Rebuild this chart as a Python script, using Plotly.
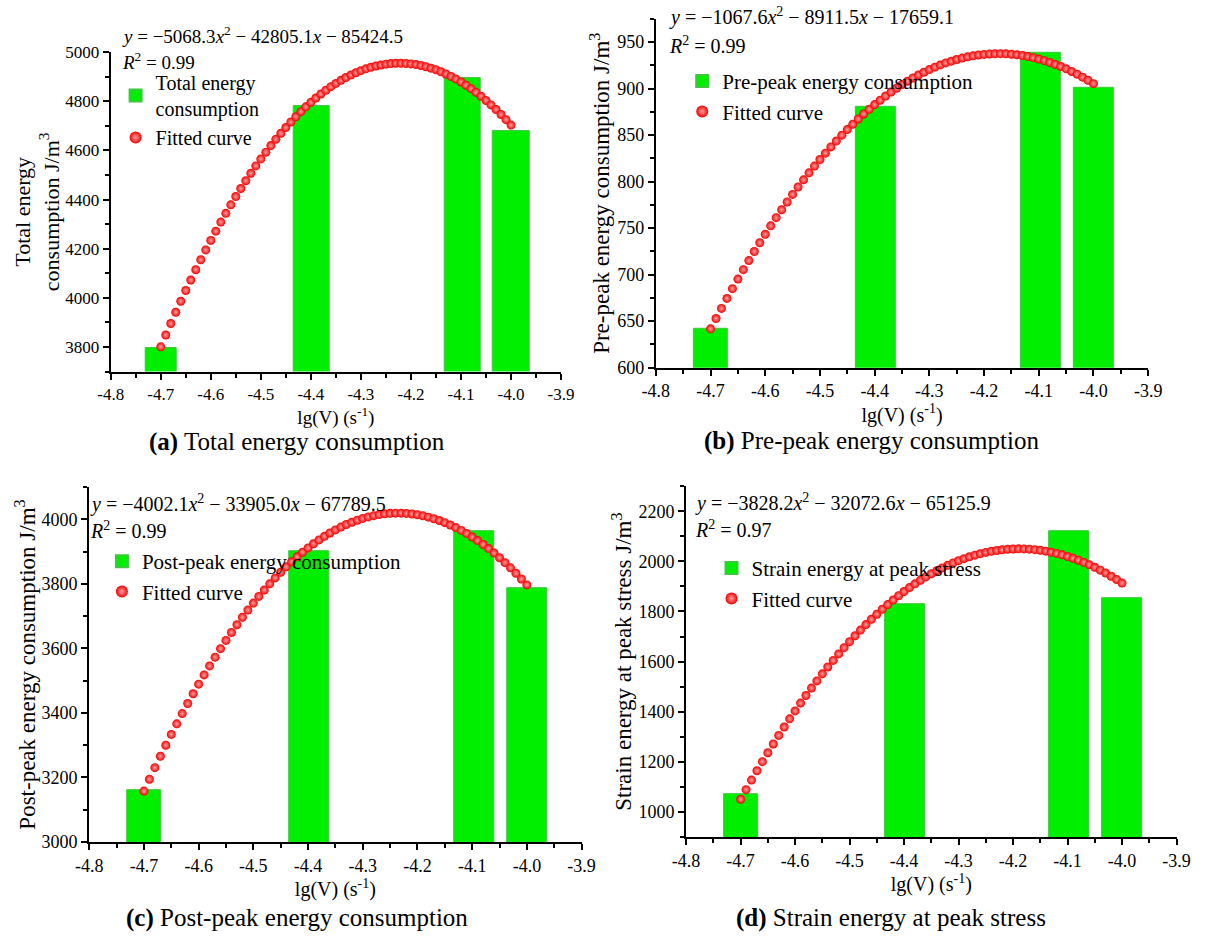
import plotly.graph_objects as go

# ---------------- data ----------------
bar_x = [-4.699, -4.398, -4.097, -4.0]
total_energy = [3795, 4780, 4893, 4678]
pre_peak = [642, 880, 938, 901]
post_peak = [3160, 3902, 3964, 3787]
strain_peak = [1069, 1830, 2122, 1852]

fit_x = [-4.70, -4.69, -4.68, -4.67, -4.66, -4.65, -4.64, -4.63, -4.62, -4.61,
         -4.60, -4.59, -4.58, -4.57, -4.56, -4.55, -4.54, -4.53, -4.52, -4.51,
         -4.50, -4.49, -4.48, -4.47, -4.46, -4.45, -4.44, -4.43, -4.42, -4.41,
         -4.40, -4.39, -4.38, -4.37, -4.36, -4.35, -4.34, -4.33, -4.32, -4.31,
         -4.30, -4.29, -4.28, -4.27, -4.26, -4.25, -4.24, -4.23, -4.22, -4.21,
         -4.20, -4.19, -4.18, -4.17, -4.16, -4.15, -4.14, -4.13, -4.12, -4.11,
         -4.10, -4.09, -4.08, -4.07, -4.06, -4.05, -4.04, -4.03, -4.02, -4.01,
         -4.00]

fit_total = [3800.7, 3848.6, 3895.4, 3941.3, 3986.1, 4029.9, 4072.7, 4114.5, 4155.2, 4195.0,
             4233.7, 4271.5, 4308.2, 4343.9, 4378.5, 4412.2, 4444.9, 4476.5, 4507.1, 4536.8,
             4565.4, 4593.0, 4619.5, 4645.1, 4669.6, 4693.2, 4715.7, 4737.2, 4757.7, 4777.2,
             4795.6, 4813.1, 4829.5, 4845.0, 4859.4, 4872.8, 4885.2, 4896.5, 4906.9, 4916.2,
             4924.6, 4931.9, 4938.2, 4943.5, 4947.7, 4951.0, 4953.2, 4954.5, 4954.7, 4953.9,
             4952.1, 4949.3, 4945.4, 4940.6, 4934.7, 4927.9, 4920.0, 4911.1, 4901.1, 4890.2,
             4878.3, 4865.3, 4851.3, 4836.4, 4820.4, 4803.3, 4785.3, 4766.3, 4746.2, 4725.2,
             4703.1]

fit_pre = [641.7, 652.8, 663.7, 674.4, 684.9, 695.2, 705.3, 715.1, 724.8, 734.2,
           743.4, 752.4, 761.2, 769.7, 778.1, 786.2, 794.2, 801.9, 809.4, 816.7,
           823.8, 830.6, 837.3, 843.7, 849.9, 855.9, 861.7, 867.3, 872.7, 877.8,
           882.8, 887.5, 892.0, 896.3, 900.4, 904.3, 907.9, 911.4, 914.6, 917.6,
           920.4, 923.0, 925.4, 927.6, 929.5, 931.3, 932.8, 934.1, 935.2, 936.1,
           936.7, 937.2, 937.4, 937.5, 937.3, 936.9, 936.3, 935.5, 934.4, 933.2,
           931.7, 930.0, 928.1, 926.0, 923.7, 921.2, 918.4, 915.5, 912.3, 908.9,
           905.3]

fit_post = [3157.6, 3194.4, 3230.3, 3265.5, 3299.8, 3333.3, 3366.1, 3398.0, 3429.2, 3459.5,
            3489.1, 3517.8, 3545.7, 3572.9, 3599.2, 3624.8, 3649.5, 3673.5, 3696.6, 3718.9,
            3740.5, 3761.2, 3781.2, 3800.3, 3818.6, 3836.2, 3852.9, 3868.8, 3884.0, 3898.3,
            3911.8, 3924.6, 3936.5, 3947.6, 3958.0, 3967.5, 3976.2, 3984.2, 3991.3, 3997.6,
            4003.2, 4007.9, 4011.8, 4015.0, 4017.3, 4018.8, 4019.5, 4019.5, 4018.6, 4016.9,
            4014.5, 4011.2, 4007.1, 4002.2, 3996.6, 3990.1, 3982.8, 3974.7, 3965.9, 3956.2,
            3945.7, 3934.4, 3922.3, 3909.5, 3895.8, 3881.3, 3866.0, 3850.0, 3833.1, 3815.4,
            3796.9]

fit_strain = [1050.4, 1089.1, 1127.1, 1164.3, 1200.8, 1236.4, 1271.3, 1305.5, 1338.9, 1371.5,
              1403.3, 1434.4, 1464.8, 1494.3, 1523.1, 1551.1, 1578.4, 1604.9, 1630.6, 1655.6,
              1679.7, 1703.2, 1725.8, 1747.7, 1768.9, 1789.2, 1808.8, 1827.7, 1845.7, 1863.0,
              1879.6, 1895.4, 1910.4, 1924.6, 1938.1, 1950.8, 1962.7, 1973.9, 1984.3, 1994.0,
              2002.9, 2011.0, 2018.3, 2024.9, 2030.7, 2035.8, 2040.1, 2043.6, 2046.4, 2048.3,
              2049.6, 2050.0, 2049.7, 2048.7, 2046.8, 2044.2, 2040.8, 2036.7, 2031.8, 2026.1,
              2019.7, 2012.5, 2004.6, 1995.8, 1986.3, 1976.1, 1965.1, 1953.3, 1940.7, 1927.4,
              1913.3]

x_tickvals = [-4.8, -4.7, -4.6, -4.5, -4.4, -4.3, -4.2, -4.1, -4.0, -3.9]
x_ticktext = ["-4.8", "-4.7", "-4.6", "-4.5", "-4.4", "-4.3", "-4.2", "-4.1", "-4.0", "-3.9"]
y_ticks_total = [3800, 4000, 4200, 4400, 4600, 4800, 5000]
y_ticks_pre = [600, 650, 700, 750, 800, 850, 900, 950]
y_ticks_post = [3000, 3200, 3400, 3600, 3800, 4000]
y_ticks_strain = [1000, 1200, 1400, 1600, 1800, 2000, 2200]

equations = [
    "<i>y</i> = \u22125068.3<i>x</i><sup>2</sup> \u2212 42805.1<i>x</i> \u2212 85424.5",
    "<i>y</i> = \u22121067.6<i>x</i><sup>2</sup> \u2212 8911.5<i>x</i> \u2212 17659.1",
    "<i>y</i> = \u22124002.1<i>x</i><sup>2</sup> \u2212 33905.0<i>x</i> \u2212 67789.5",
    "<i>y</i> = \u22123828.2<i>x</i><sup>2</sup> \u2212 32072.6<i>x</i> \u2212 65125.9",
]
r_squared = ["0.99", "0.99", "0.99", "0.97"]
bar_names = ["Total energy<br>consumption", "Pre-peak energy consumption",
             "Post-peak energy consumption", "Strain energy at peak stress"]
y_titles = ["Total energy<br>consumption J/m<sup>3</sup>",
            "Pre-peak energy consumption J/m<sup>3</sup>",
            "Post-peak energy consumption J/m<sup>3</sup>",
            "Strain energy at peak stress J/m<sup>3</sup>"]
captions = ["<b>(a)</b> Total energy consumption", "<b>(b)</b> Pre-peak energy consumption",
            "<b>(c)</b> Post-peak energy consumption", "<b>(d)</b> Strain energy at peak stress"]
x_title = "lg(V) (s<sup>-1</sup>)"
fit_name = "Fitted curve"

bar_values = [total_energy, pre_peak, post_peak, strain_peak]
fit_values = [fit_total, fit_pre, fit_post, fit_strain]
y_ticks = [y_ticks_total, y_ticks_pre, y_ticks_post, y_ticks_strain]

# ---------------- layout / style ----------------
W, H = 1213, 945
FONT = "Liberation Serif"
bar_widths = [0.063, 0.072, 0.073, 0.073]

# plot-area boxes in pixels: (left, right, top, bottom)
boxes = [(99, 560, 44, 370), (657, 1161, 10, 366), (77, 581, 488, 850), (688, 1190, 487, 845)]
y_ranges = [[3700, 5000], [600, 975], [3000, 4100], [900, 2300]]
y_minor = [100, 25, 100, 100]
scale = [0.96, 1.0, 1.0, 1.0]
eq_pos = [(108, 27, 53), (668, 8, 37), (76, 505, 532), (695, 504, 531)]
legend_pos = [(104, 55), (684, 53), (90, 543), (714, 550)]
caption_pos = [(290, 442), (878, 441), (290, 928), (898, 928)]
y_standoff = [0, 1, 0, 0]


def fx(p):
    return p / W


def fy(p):
    return 1 - p / H


fig = go.Figure()
annotations = []
layout_upd = {}

for i in range(4):
    sfx = "" if i == 0 else str(i + 1)
    xa, ya = "x" + sfx, "y" + sfx
    lg = "legend" + sfx
    left, right, top, bottom = boxes[i]
    s = scale[i]

    fig.add_trace(go.Bar(
        x=bar_x, y=bar_values[i], width=bar_widths, name=bar_names[i],
        xaxis=xa, yaxis=ya, legend=lg,
        marker=dict(color="#00EE00", line=dict(color="#3DC83D", width=1)),
    ))
    fig.add_trace(go.Scatter(
        x=fit_x, y=fit_values[i], mode="markers", name=fit_name,
        xaxis=xa, yaxis=ya, legend=lg, cliponaxis=False,
        marker=dict(size=9, color="#F20000",
                    gradient=dict(type="radial", color="#FFA0A0"),
                    line=dict(width=0)),
    ))

    layout_upd["xaxis" + sfx] = dict(
        domain=[fx(left), fx(right)], anchor=ya, range=[-4.8, -3.9],
        tickmode="array", tickvals=x_tickvals, ticktext=x_ticktext,
        ticks="outside", ticklen=6, tickwidth=2, tickcolor="black",
        showline=True, linewidth=2, linecolor="black", showgrid=False, zeroline=False,
        minor=dict(tick0=-4.8, dtick=0.05, ticks="outside", ticklen=4, tickwidth=1.5,
                   tickcolor="black", showgrid=False),
        tickfont=dict(family=FONT, size=round(17.6 * s), color="black"),
        title=dict(text=x_title, font=dict(family=FONT, size=round(20 * s), color="black"),
                   standoff=0),
    )
    layout_upd["yaxis" + sfx] = dict(
        domain=[fy(bottom), fy(top)], anchor=xa, range=y_ranges[i],
        tickmode="array", tickvals=y_ticks[i],
        ticks="outside", ticklen=6, tickwidth=2, tickcolor="black",
        showline=True, linewidth=2, linecolor="black", showgrid=False, zeroline=False,
        minor=dict(tick0=y_ranges[i][0], dtick=y_minor[i], ticks="outside", ticklen=4,
                   tickwidth=1.5, tickcolor="black", showgrid=False),
        tickfont=dict(family=FONT, size=round(17.6 * s), color="black"),
        title=dict(text=y_titles[i], font=dict(family=FONT, size=round(23 * s), color="black"),
                   standoff=y_standoff[i]),
    )
    lx, ly = legend_pos[i]
    layout_upd[lg] = dict(
        x=fx(lx), y=fy(ly), xanchor="left", yanchor="top", bgcolor="rgba(0,0,0,0)",
        font=dict(family=FONT, size=round(21 * s), color="black"), tracegroupgap=0,
        itemsizing="constant",
    )

    ex, ey1, ey2 = eq_pos[i]
    annotations.append(dict(x=fx(ex), y=fy(ey1), xref="paper", yref="paper", xanchor="left",
                            yanchor="middle", showarrow=False, text=equations[i],
                            font=dict(family=FONT, size=round(19.6 * s), color="black")))
    annotations.append(dict(x=fx(ex), y=fy(ey2), xref="paper", yref="paper", xanchor="left",
                            yanchor="middle", showarrow=False,
                            text="<i>R</i><sup>2</sup> = " + r_squared[i],
                            font=dict(family=FONT, size=round(19.6 * s), color="black")))
    cx, cy = caption_pos[i]
    annotations.append(dict(x=fx(cx), y=fy(cy), xref="paper", yref="paper", xanchor="center",
                            yanchor="middle", showarrow=False, text=captions[i],
                            font=dict(family=FONT, size=25, color="black")))

fig.update_layout(
    width=W, height=H, margin=dict(l=0, r=0, t=0, b=0),
    paper_bgcolor="white", plot_bgcolor="white",
    font=dict(family=FONT, color="black"),
    showlegend=True, bargap=0,
    annotations=annotations,
    **layout_upd,
)

fig.write_html("out.html")
